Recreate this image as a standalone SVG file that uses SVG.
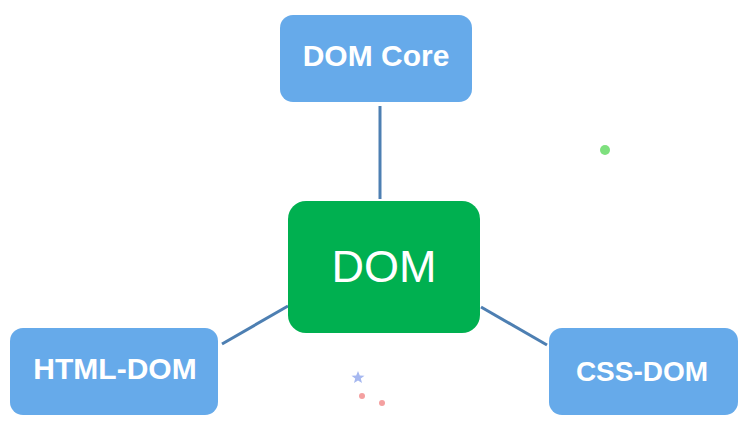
<svg xmlns="http://www.w3.org/2000/svg" width="751" height="422" viewBox="0 0 751 422">
<style>
.blue{fill:#66aaea}
.lbl{font-family:"Liberation Sans",Arial,sans-serif;font-weight:bold;font-size:30px;fill:#fff;text-anchor:middle}
.conn{stroke:#4d7fb2;stroke-width:3;fill:none}
</style>
<rect width="751" height="422" fill="#fff"/>
<g id="connectors">
<line class="conn" x1="380" y1="106" x2="380" y2="199"/>
<line class="conn" x1="222" y1="344" x2="288" y2="306"/>
<line class="conn" x1="481" y1="307" x2="547" y2="345"/>
</g>
<g id="dom-core">
<rect class="blue" x="280" y="15" width="192" height="87" rx="13"/>
<text class="lbl" x="376" y="66">DOM Core</text>
</g>
<g id="dom">
<rect x="288" y="201" width="192" height="132" rx="18" fill="#00b050"/>
<text x="384" y="282" font-family="Liberation Sans,Arial,sans-serif" font-size="45" fill="#fff" text-anchor="middle">DOM</text>
</g>
<g id="html-dom">
<rect class="blue" x="10" y="328" width="208" height="87" rx="13"/>
<text class="lbl" x="115" y="379">HTML-DOM</text>
</g>
<g id="css-dom">
<rect class="blue" x="549" y="328" width="189" height="87" rx="13"/>
<text class="lbl" x="642" y="381" font-size="28" style="font-size:28px">CSS-DOM</text>
</g>
<circle cx="605" cy="150" r="5" fill="#7ee07e"/>
<circle cx="362" cy="396" r="3" fill="#f4a0a0"/>
<circle cx="382" cy="403" r="3" fill="#f4a0a0"/>
<polygon points="358,371 359.8,375.5 364.5,375.7 360.8,378.6 362,383 358,380.4 354,383 355.2,378.6 351.5,375.7 356.2,375.5" fill="#a6b8f0"/>
</svg>
